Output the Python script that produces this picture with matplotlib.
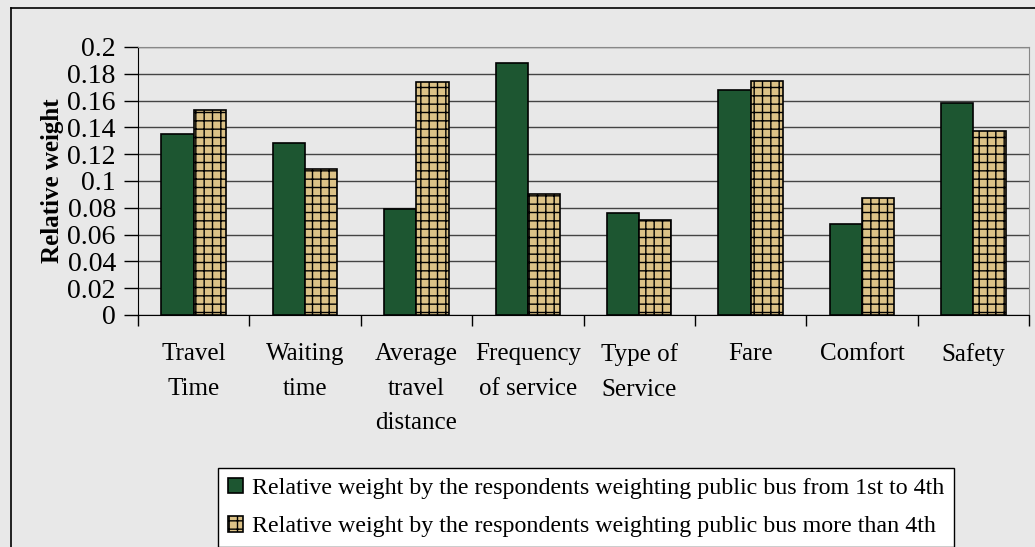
import numpy as np
import matplotlib.pyplot as plt
from matplotlib.lines import Line2D

categories = ['Travel\nTime', 'Waiting\ntime', 'Average\ntravel\ndistance',
              'Frequency\nof service', 'Type of\nService', 'Fare', 'Comfort', 'Safety']
weight_1st_to_4th = [0.135, 0.128, 0.079, 0.188, 0.076, 0.168, 0.068, 0.158]
weight_more_than_4th = [0.153, 0.109, 0.174, 0.090, 0.071, 0.175, 0.087, 0.137]
series_labels = ['Relative weight by the respondents weighting public bus from 1st to 4th',
                 'Relative weight by the respondents weighting public bus more than 4th']
yticks = [0, 0.02, 0.04, 0.06, 0.08, 0.1, 0.12, 0.14, 0.16, 0.18, 0.2]
ytick_labels = ['0', '0.02', '0.04', '0.06', '0.08', '0.1', '0.12', '0.14', '0.16', '0.18', '0.2']

plt.rcParams['font.family'] = ['Liberation Serif', 'DejaVu Serif']
plt.rcParams['hatch.color'] = '#7a5a25'

bg = '#e8e8e8'
fig = plt.figure(figsize=(10.35, 5.47), dpi=100, facecolor=bg)
ax = fig.add_axes([138/1035, 1-315/547, (1029-138)/1035, (315-47)/547])
ax.set_facecolor(bg)

x = np.arange(len(categories))
w = 0.29
ax.bar(x - w/2, weight_1st_to_4th, w, color='#1d5631', edgecolor='black',
       linewidth=1.2, label=series_labels[0], zorder=3)
ax.bar(x + w/2, weight_more_than_4th, w, color='#dcc287', edgecolor='black',
       linewidth=1.2, hatch='++', label=series_labels[1], zorder=3)

ax.set_xlim(-0.5, len(categories) - 0.5)
ax.set_ylim(0, 0.2)
ax.set_yticks(yticks)
ax.set_yticklabels(ytick_labels, fontsize=20)
ax.tick_params(axis='y', direction='out', length=10, width=1, pad=6)
ax.yaxis.grid(True, color='#444444', linewidth=1, zorder=0)

# category boundaries as major ticks, names on minor ticks
ax.set_xticks(np.arange(len(categories) + 1) - 0.5)
ax.set_xticklabels([])
ax.tick_params(axis='x', which='major', direction='out', length=8, width=1)
ax.set_xticks(x, minor=True)
ax.set_xticklabels(categories, minor=True, fontsize=18, linespacing=1.75, va='top')
ax.tick_params(axis='x', which='minor', length=0, pad=20)

ax.set_ylabel('Relative weight', fontsize=18, fontweight='bold', labelpad=2)

ax.spines['left'].set_color('black')
ax.spines['bottom'].set_color('black')
ax.spines['top'].set_color('#888888')
ax.spines['right'].set_color('#888888')

leg = fig.legend(loc='lower left', bbox_to_anchor=(218/1035, 0.0), fontsize=17.3,
                 frameon=True, fancybox=False, edgecolor='black', facecolor='white',
                 framealpha=1, handlelength=0.62, handleheight=0.62, handletextpad=0.4,
                 borderpad=0.4, labelspacing=0.72, borderaxespad=0)
leg.get_frame().set_linewidth(1)

# outer chart frame (left and top visible)
fig.add_artist(Line2D([11/1035, 11/1035], [0, 1-8/547], color='black', linewidth=1.2))
fig.add_artist(Line2D([11/1035, 1], [1-8/547, 1-8/547], color='black', linewidth=1.2))

fig.savefig('out.png', dpi=100, facecolor=bg)
